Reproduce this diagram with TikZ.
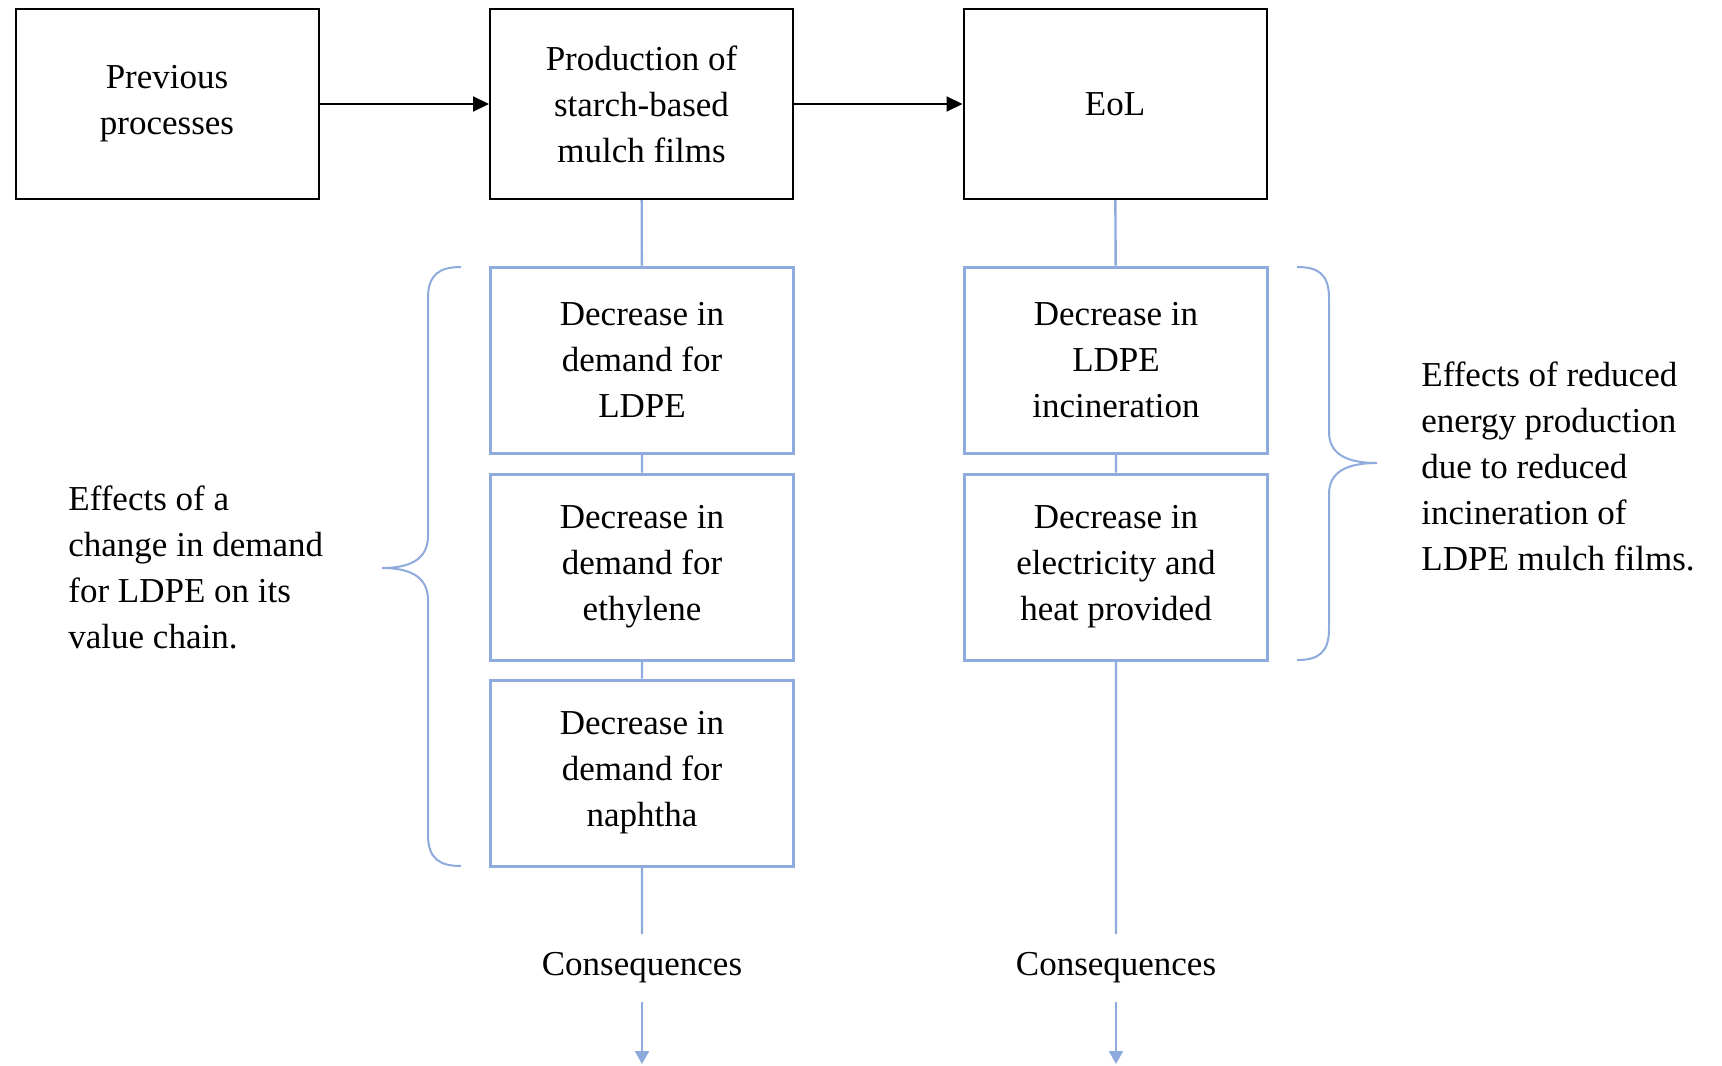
\documentclass[tikz,border=0pt]{standalone}
\usepackage{fontspec}
\setmainfont{Liberation Serif}
\usetikzlibrary{arrows.meta}

\definecolor{chainblue}{RGB}{143,170,220}
\tikzset{
  blackbox/.style={draw=black,line width=1pt,minimum width=151.5pt,minimum height=95pt,align=center,inner sep=0pt},
  bluebox/.style={draw=chainblue,line width=1.5pt,minimum width=151.5pt,minimum height=93pt,align=center,inner sep=0pt},
  blueline/.style={draw=chainblue,line width=1.2pt},
  brace/.style={draw=chainblue,line width=1pt},
  consnode/.style={minimum height=33.5pt,inner sep=0pt}
}

\begin{document}
\begin{tikzpicture}[x=0.5pt,y=-0.5pt,font=\fontsize{17.5}{23}\selectfont]
        \useasboundingbox (0,0) rectangle (1722,1065);

        \node[blackbox] (prev) at (167,104) {Previous\\processes};
        \node[blackbox] (prod) at (641.5,104) {Production of\\starch-based\\mulch films};
        \node[blackbox] (eol) at (1115,104) {EoL};

        \node[bluebox] (ldpe) at (642,360) {Decrease in\\demand for\\LDPE};
        \node[bluebox] (ethyl) at (642,567) {Decrease in\\demand for\\ethylene};
        \node[bluebox] (naph) at (642,773) {Decrease in\\demand for\\naphtha};
        \node[bluebox] (incin) at (1116,360) {Decrease in\\LDPE\\incineration};
        \node[bluebox] (elec) at (1116,567) {Decrease in\\electricity and\\heat provided};

        \node[consnode] (consA) at (642,968) {Consequences};
        \node[consnode] (consB) at (1116,968) {Consequences};
        \coordinate (endA) at (642,1064);
        \coordinate (endB) at (1116,1064);

        \draw[line width=1pt,-{Triangle[length=8pt,width=7.5pt]}] (prev) -- (prod);
        \draw[line width=1pt,-{Triangle[length=8pt,width=7.5pt]}] (prod) -- (eol);

        \draw[blueline] (prod) -- (ldpe) -- (ethyl) -- (naph) -- (consA);
        \draw[blueline] (eol) -- (incin) -- (elec) -- (consB);
        \draw[blueline,-{Triangle[length=6.5pt,width=7pt]}] (consA) -- (endA);
        \draw[blueline,-{Triangle[length=6.5pt,width=7pt]}] (consB) -- (endB);

        \draw[brace] (461,267) .. controls (440,267) and (428,274) .. (428,298) -- (428,536)
                     .. controls (428,558) and (412,568) .. (382,568)
                     .. controls (412,568) and (428,578) .. (428,600) -- (428,835)
                     .. controls (428,859) and (440,866) .. (461,866);
        \draw[brace] (1297,267) .. controls (1318,267) and (1329,274) .. (1329,298) -- (1329,432)
                     .. controls (1329,453) and (1345,463) .. (1377,463)
                     .. controls (1345,463) and (1329,473) .. (1329,494) -- (1329,629)
                     .. controls (1329,653) and (1318,660) .. (1297,660);

        \node[anchor=west,align=left,inner sep=0pt] (leftnote) at (68,567) {Effects of a\\change in demand\\for LDPE on its\\value chain.};
        \node[anchor=west,align=left,inner sep=0pt] (rightnote) at (1421,466) {Effects of reduced\\energy production\\due to reduced\\incineration of\\LDPE mulch films.};
    \end{tikzpicture}
\end{document}
